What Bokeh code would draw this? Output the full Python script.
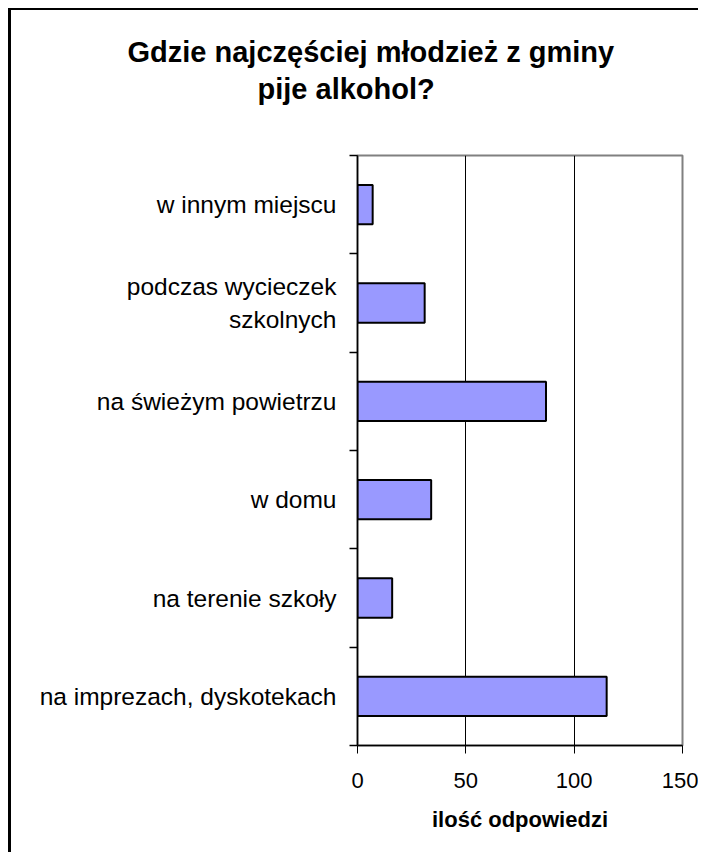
from bokeh.plotting import figure
from bokeh.models import Range1d, FixedTicker, Title
from bokeh.embed import file_html
from bokeh.resources import INLINE

# Data (bottom to top, as in the source chart)
categories = ["na imprezach, dyskotekach", "na terenie szkoły", "w domu",
              "na świeżym powietrzu", "podczas wycieczek\nszkolnych", "w innym miejscu"]
values = [115, 16, 34, 87, 31, 7]
x_ticks = [0, 50, 100, 150]
title_lines = ["Gdzie najczęściej młodzież z gminy", "pije alkohol?"]
x_label = "ilość odpowiedzi"

n = len(categories)
centers = [i + 0.5 for i in range(n)]
bounds = list(range(n + 1))

W, H = 690, 844
p = figure(width=W, height=H, output_backend="svg", toolbar_location=None,
           x_range=Range1d(0, 150), y_range=Range1d(0, n),
           min_border_left=346, min_border_right=19, min_border_top=145,
           min_border_bottom=109)
p.styles = {"border-left": "3px solid #000", "border-top": "2px solid #000",
            "margin-left": "8px", "margin-top": "8px"}

p.background_fill_color = "white"
p.border_fill_color = "white"
p.outline_line_color = "#808080"
p.outline_line_width = 2

p.hbar(y=centers, right=values, left=0, height=0.4,
       fill_color="#9999FF", line_color="black", line_width=2)

# x axis
xa = p.xaxis[0]
xa.ticker = FixedTicker(ticks=x_ticks, minor_ticks=[])
xa.major_tick_out = 8
xa.major_tick_in = 0
xa.minor_tick_line_color = None
xa.axis_line_color = "black"
xa.axis_line_width = 1.5
xa.major_tick_line_color = "black"
xa.major_label_text_font = "Liberation Sans"
xa.major_label_text_font_size = "22px"
xa.major_label_text_color = "black"
xa.major_label_standoff = 19
xa.axis_label = x_label
xa.axis_label_text_font = "Liberation Sans"
xa.axis_label_text_font_style = "bold"
xa.axis_label_text_font_size = "22px"
xa.axis_label_text_color = "black"
xa.axis_label_standoff = 16

# y axis: labels at centres, tick marks at category boundaries
ya = p.yaxis[0]
ya.ticker = FixedTicker(ticks=centers, minor_ticks=bounds)
ya.major_label_overrides = {c: lab for c, lab in zip(centers, categories)}
ya.major_tick_line_color = None
ya.major_tick_out = 0
ya.major_tick_in = 0
ya.minor_tick_out = 8
ya.minor_tick_in = 0
ya.minor_tick_line_color = "black"
ya.minor_tick_line_width = 1.5
ya.axis_line_color = "black"
ya.axis_line_width = 1.5
ya.major_label_text_font = "Liberation Sans"
ya.major_label_text_font_size = "24.5px"
ya.major_label_text_color = "black"
ya.major_label_standoff = 13

p.xgrid.ticker = FixedTicker(ticks=x_ticks)
p.xgrid.grid_line_color = "black"
p.xgrid.grid_line_width = 1
p.ygrid.grid_line_color = None

# title: two lines; the one added first sits closest to the frame
for txt, off, so in [(title_lines[1], -100, 101), (title_lines[0], -230, -94)]:
    p.add_layout(Title(text=txt, align="left", offset=off, standoff=so,
                       text_font="Liberation Sans", text_font_style="bold",
                       text_font_size="29px", text_color="black"), "above")

open("out.html", "w").write(file_html(p, INLINE))
